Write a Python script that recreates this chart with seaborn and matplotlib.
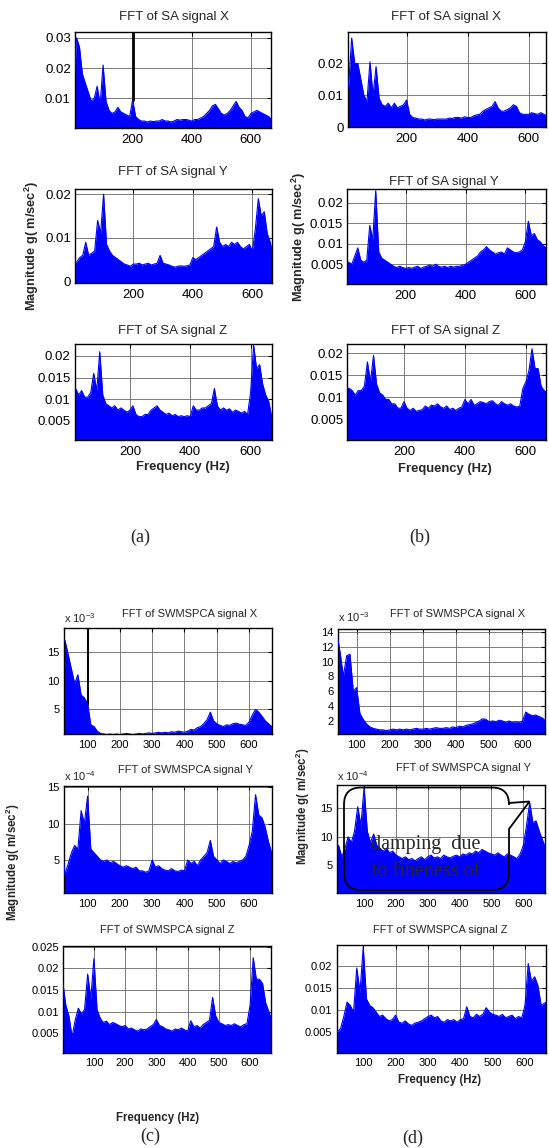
import numpy as np
import matplotlib
matplotlib.use("Agg")
import matplotlib.pyplot as plt
import seaborn as sns
from matplotlib.path import Path
from matplotlib.patches import PathPatch
from matplotlib.transforms import IdentityTransform
from matplotlib.ticker import FuncFormatter

# ---------------- data ----------------
FREQ = np.arange(0, 680, 10)  # frequency bins (Hz)

SA_X_A = [0.008, 0.030, 0.027, 0.018, 0.015, 0.012, 0.009, 0.010, 0.014, 0.008, 0.021, 0.009, 0.006, 0.005,
          0.0055, 0.007, 0.0055, 0.005, 0.0045, 0.004, 0.0095, 0.004, 0.003, 0.0025, 0.0025, 0.0022, 0.0025,
          0.0023, 0.0025, 0.0025, 0.003, 0.0025, 0.0025, 0.0022, 0.0025, 0.003, 0.0028, 0.003, 0.003, 0.0028,
          0.0025, 0.003, 0.003, 0.0035, 0.004, 0.005, 0.006, 0.0075, 0.008, 0.0065, 0.005, 0.0045, 0.005, 0.006,
          0.0075, 0.009, 0.007, 0.006, 0.004, 0.0035, 0.005, 0.0055, 0.006, 0.0055, 0.005, 0.0045, 0.004, 0.003]
SA_X_B = [0.010, 0.013, 0.028, 0.020, 0.020, 0.015, 0.010, 0.008, 0.0205, 0.010, 0.019, 0.009, 0.007, 0.0065,
          0.0075, 0.006, 0.0075, 0.006, 0.0065, 0.007, 0.0085, 0.004, 0.003, 0.0028, 0.0025, 0.0025, 0.0022,
          0.0025, 0.0025, 0.0023, 0.0025, 0.0025, 0.0025, 0.0025, 0.0028, 0.0027, 0.003, 0.003, 0.0028, 0.0032,
          0.003, 0.003, 0.0035, 0.0038, 0.004, 0.005, 0.0055, 0.006, 0.0065, 0.008, 0.006, 0.005, 0.005, 0.0055,
          0.006, 0.007, 0.0065, 0.0045, 0.004, 0.004, 0.004, 0.0045, 0.0042, 0.004, 0.0045, 0.004, 0.0035, 0.0035]
SA_Y_A = [0.004, 0.0045, 0.0055, 0.006, 0.009, 0.006, 0.0065, 0.007, 0.014, 0.011, 0.020, 0.0085, 0.007, 0.006,
          0.0055, 0.005, 0.0045, 0.004, 0.0038, 0.0035, 0.004, 0.004, 0.0042, 0.0038, 0.004, 0.0042, 0.0038,
          0.004, 0.0042, 0.006, 0.0042, 0.004, 0.0038, 0.0035, 0.0033, 0.0035, 0.0036, 0.0035, 0.0036, 0.0038,
          0.0055, 0.005, 0.0055, 0.006, 0.0065, 0.007, 0.0075, 0.008, 0.0125, 0.009, 0.008, 0.0085, 0.008, 0.009,
          0.0085, 0.009, 0.008, 0.0075, 0.008, 0.0085, 0.007, 0.012, 0.019, 0.015, 0.016, 0.011, 0.009, 0.006]
SA_Y_B = [0.0055, 0.0055, 0.005, 0.007, 0.009, 0.006, 0.0055, 0.006, 0.0145, 0.011, 0.023, 0.008, 0.0065, 0.006,
          0.0055, 0.005, 0.0045, 0.0042, 0.0045, 0.0042, 0.004, 0.0042, 0.004, 0.0043, 0.0045, 0.004, 0.0043,
          0.0045, 0.0048, 0.0045, 0.005, 0.0045, 0.0043, 0.0045, 0.0042, 0.0045, 0.0043, 0.0045, 0.0045, 0.0048,
          0.005, 0.0055, 0.006, 0.0065, 0.007, 0.008, 0.0085, 0.0093, 0.0085, 0.008, 0.0075, 0.0078, 0.008, 0.0075,
          0.009, 0.0085, 0.008, 0.0078, 0.008, 0.0085, 0.0105, 0.0155, 0.012, 0.0125, 0.011, 0.0105, 0.0095, 0.009]
SA_Z_A = [0.0125, 0.0125, 0.0125, 0.011, 0.012, 0.0105, 0.0105, 0.0115, 0.016, 0.012, 0.021, 0.011, 0.009, 0.0085,
          0.008, 0.0085, 0.0075, 0.008, 0.0075, 0.007, 0.0075, 0.0085, 0.0065, 0.006, 0.006, 0.0065, 0.0065,
          0.0075, 0.008, 0.0085, 0.0075, 0.007, 0.0065, 0.0068, 0.0062, 0.0065, 0.006, 0.0062, 0.006, 0.0062,
          0.006, 0.0085, 0.0075, 0.0075, 0.008, 0.008, 0.0085, 0.009, 0.0125, 0.0085, 0.0075, 0.008, 0.0075, 0.0078,
          0.007, 0.0075, 0.0072, 0.0068, 0.0072, 0.0065, 0.0115, 0.0225, 0.017, 0.018, 0.0135, 0.011, 0.0095, 0.006]
SA_Z_B = [0.012, 0.012, 0.012, 0.0115, 0.0105, 0.0115, 0.0115, 0.0125, 0.018, 0.0135, 0.0195, 0.013, 0.011, 0.0105,
          0.0095, 0.0095, 0.0085, 0.0085, 0.0075, 0.0075, 0.009, 0.0075, 0.007, 0.0075, 0.0068, 0.007, 0.0072,
          0.008, 0.0075, 0.0082, 0.008, 0.0085, 0.0078, 0.0075, 0.008, 0.0072, 0.0075, 0.007, 0.0075, 0.0078,
          0.0095, 0.0085, 0.0095, 0.0082, 0.0085, 0.009, 0.0088, 0.0085, 0.009, 0.0092, 0.0085, 0.0082, 0.009,
          0.0085, 0.0082, 0.0085, 0.008, 0.0078, 0.008, 0.012, 0.0135, 0.016, 0.021, 0.0165, 0.0165, 0.0125, 0.0115, 0.011]
# SWMSPCA X in units of 1e-3, Y in units of 1e-4
SW_X_C = [17.5, 17.5, 17.5, 17.0, 14.5, 12.0, 9.5, 11.0, 7.5, 7.0, 6.0, 2.3, 2.0, 1.2, 0.8, 0.7, 0.6, 0.7, 0.6,
          0.7, 0.6, 0.7, 0.8, 0.7, 0.6, 0.7, 0.8, 0.7, 0.8, 0.9, 0.8, 0.9, 1.0, 0.9, 1.0, 0.9, 1.1, 1.0, 1.2, 1.1,
          1.0, 1.2, 1.5, 1.4, 1.8, 2.0, 2.5, 3.2, 4.5, 3.0, 2.5, 2.2, 2.0, 2.3, 2.2, 2.5, 2.6, 2.4, 2.3, 2.2, 2.8,
          4.0, 5.0, 4.5, 3.8, 3.0, 2.5, 2.0]
SW_X_D = [14.0, 14.0, 14.0, 14.0, 14.0, 11.3, 8.0, 10.8, 11.0, 6.0, 6.5, 3.0, 2.2, 1.6, 1.2, 1.0, 0.9, 0.8, 0.8,
          0.7, 0.8, 0.9, 0.8, 0.9, 0.8, 0.9, 0.8, 0.9, 1.0, 0.9, 0.9, 1.0, 0.9, 1.0, 1.1, 1.0, 1.0, 1.1, 1.0, 1.2,
          1.1, 1.3, 1.2, 1.4, 1.5, 1.6, 1.8, 2.0, 2.3, 2.2, 1.9, 2.0, 1.9, 2.1, 2.0, 1.8, 2.0, 1.8, 1.9, 1.8, 2.0,
          3.2, 2.9, 2.7, 2.8, 2.6, 2.4, 2.0]
SW_Y_C = [7.0, 7.0, 7.0, 3.0, 4.5, 6.0, 7.0, 6.5, 11.8, 10.0, 13.8, 6.5, 6.0, 5.5, 5.0, 4.8, 5.0, 4.6, 4.8, 4.5,
          4.2, 4.0, 4.2, 4.0, 3.8, 4.0, 3.5, 3.5, 3.3, 3.5, 5.0, 4.0, 4.2, 3.8, 3.6, 3.5, 3.8, 3.5, 3.4, 3.6, 3.5,
          5.0, 4.5, 4.8, 4.2, 5.0, 5.5, 6.0, 7.7, 5.5, 5.0, 4.5, 5.0, 4.8, 4.5, 4.8, 4.6, 4.8, 5.0, 5.5, 7.0, 9.0,
          14.0, 11.2, 10.8, 9.5, 7.5, 6.0]
SW_Y_D = [8.5, 8.5, 8.5, 6.5, 8.0, 10.0, 9.0, 11.0, 15.3, 12.0, 18.7, 11.0, 9.0, 10.5, 8.5, 8.0, 7.5, 8.0, 7.2,
          7.5, 6.8, 6.5, 6.2, 6.5, 6.0, 6.2, 5.8, 6.2, 6.5, 6.0, 6.5, 6.8, 6.3, 6.5, 6.2, 6.8, 6.5, 6.3, 6.6, 6.8,
          6.5, 7.0, 6.8, 7.2, 7.0, 7.5, 7.2, 7.8, 7.5, 7.2, 7.0, 6.8, 7.2, 6.8, 6.5, 7.0, 6.8, 6.5, 6.2, 7.0, 8.5,
          12.0, 16.0, 12.5, 12.8, 11.0, 9.5, 8.0]
SW_Z_C = [0.017, 0.0115, 0.009, 0.0042, 0.008, 0.0108, 0.0095, 0.0105, 0.0187, 0.013, 0.0223, 0.0105, 0.0085,
          0.0075, 0.0078, 0.007, 0.0075, 0.0072, 0.0068, 0.0065, 0.0068, 0.006, 0.0062, 0.0058, 0.0055, 0.006,
          0.0058, 0.006, 0.0065, 0.007, 0.0082, 0.0068, 0.0065, 0.006, 0.0058, 0.0055, 0.006, 0.0058, 0.0062,
          0.0058, 0.0055, 0.0079, 0.0065, 0.0068, 0.0062, 0.007, 0.0075, 0.008, 0.0133, 0.009, 0.0075, 0.0072,
          0.0068, 0.007, 0.0068, 0.0072, 0.0068, 0.0065, 0.007, 0.0072, 0.0115, 0.0225, 0.0175, 0.0175, 0.0165,
          0.012, 0.010, 0.008]
SW_Z_D = [0.0065, 0.0065, 0.005, 0.0058, 0.0085, 0.0118, 0.011, 0.0095, 0.0195, 0.014, 0.0242, 0.0125, 0.011,
          0.0105, 0.0095, 0.0085, 0.0088, 0.008, 0.0075, 0.0078, 0.0088, 0.0072, 0.007, 0.0075, 0.0068, 0.0065,
          0.007, 0.0072, 0.0075, 0.008, 0.0085, 0.0088, 0.0082, 0.0085, 0.0075, 0.0072, 0.0078, 0.0075, 0.0078,
          0.0072, 0.0078, 0.008, 0.0107, 0.0085, 0.0082, 0.009, 0.0085, 0.009, 0.0105, 0.0095, 0.009, 0.0088,
          0.0085, 0.009, 0.0082, 0.0085, 0.0088, 0.008, 0.0085, 0.0082, 0.011, 0.0205, 0.0165, 0.0175, 0.0155,
          0.011, 0.0115, 0.012]

TITLES = ["FFT of SA signal X", "FFT of SA signal Y", "FFT of SA signal Z",
          "FFT of SWMSPCA signal X", "FFT of SWMSPCA signal Y", "FFT of SWMSPCA signal Z"]
CURSOR_A = 200   # data-cursor line in panel (a) X
CURSOR_C = 100   # data-cursor line in panel (c) X

# ---------------- style ----------------
sns.set_style("white")
plt.rcParams["font.family"] = ["Liberation Sans", "DejaVu Sans"]
plt.rcParams["mathtext.fontset"] = "custom"
plt.rcParams["mathtext.rm"] = "Liberation Sans"
plt.rcParams["mathtext.bf"] = "Liberation Sans:bold"

W, H = 549, 1148
fig = plt.figure(figsize=(W / 100, H / 100), dpi=100)
fig.patch.set_facecolor("white")


def rect(l, r, t, b):
    return [l / W, 1 - b / H, (r - l) / W, (b - t) / H]


def fxy(x, y):
    return x / W, 1 - y / H


BLUE = "#0000ff"
fmt = FuncFormatter(lambda v, p: "%g" % round(v, 6))

panels = [
    # data, rect(l,r,t,b), xlim, ylim, yticks, xticks, title idx, title pos, fs_tick, fs_title, mult
    (SA_X_A, (75, 271, 32, 128), (5, 668), (0.0002, 0.0319), [0.01, 0.02, 0.03], [200, 400, 600], 0, (174, 17), 9.5, 9.5, None),
    (SA_X_B, (347.7, 546, 31.7, 127), (7, 657), (0, 0.030), [0, 0.01, 0.02], [200, 400, 600], 0, (446, 17.3), 9.5, 9.5, None),
    (SA_Y_A, (75.3, 271.7, 189, 283.3), (5, 665), (-0.0004, 0.0212), [0, 0.01, 0.02], [200, 400, 600], 1, (173, 172.5), 9.5, 9.5, None),
    (SA_Y_B, (347.3, 546, 189, 284.3), (5, 669), (0.0001, 0.0234), [0.005, 0.01, 0.015, 0.02], [200, 400, 600], 1, (444, 181.7), 9.5, 9.5, None),
    (SA_Z_A, (74.7, 271.7, 344.3, 440), (17, 670), (0.0006, 0.0227), [0.005, 0.01, 0.015, 0.02], [200, 400, 600], 2, (173, 330.7), 9.5, 9.5, None),
    (SA_Z_B, (347.3, 546, 344.3, 440), (14, 666), (0.0003, 0.022), [0.005, 0.01, 0.015, 0.02], [200, 400, 600], 2, (446, 330.7), 9.5, 9.5, None),
    (SW_X_C, (64, 271.7, 627.7, 734.3), (27, 670), (0.65, 19.2), [5, 10, 15], [100, 200, 300, 400, 500, 600], 3, (190, 614.3), 8, 8, ("-3", (64, 618))),
    (SW_X_D, (337.7, 545.3, 629, 734.3), (43, 669), (0.2, 14.4), [2, 4, 6, 8, 10, 12, 14], [100, 200, 300, 400, 500, 600], 3, (458, 614.3), 8, 8, ("-3", (337.7, 617))),
    (SW_Y_C, (64, 271.7, 786, 893.3), (27, 670), (0.4, 15.2), [5, 10, 15], [100, 200, 300, 400, 500, 600], 4, (185, 770), 8, 8, ("-4", (64, 776))),
    (SW_Y_D, (336.7, 545.3, 785, 893.3), (14, 669), (0.1, 19.1), [5, 10, 15], [100, 200, 300, 400, 500, 600], 4, (463, 768.3), 8, 8, ("-4", (336.7, 776))),
    (SW_Z_C, (63.3, 270.7, 946, 1052.7), (2, 666), (0.0005, 0.0252), [0.005, 0.01, 0.015, 0.02, 0.025], [100, 200, 300, 400, 500, 600], 5, (167, 930), 8, 8, None),
    (SW_Z_D, (336.7, 546, 945, 1052.7), (18, 665), (0.0003, 0.0247), [0.005, 0.01, 0.015, 0.02], [100, 200, 300, 400, 500, 600], 5, (440, 930), 8, 8, None),
]

axes = []
for vals, r, xl, yl, yt, xt, ti, tpos, fst, fstt, mult in panels:
    ax = fig.add_axes(rect(*r))
    vals = np.asarray(vals, dtype=float)
    ax.fill_between(FREQ, min(0, yl[0]), vals, color=BLUE, lw=0, zorder=2)
    sns.lineplot(x=FREQ, y=vals, ax=ax, color=BLUE, lw=0.8, zorder=3)
    ax.set_xlim(*xl)
    ax.set_ylim(*yl)
    ax.set_xticks(xt)
    ax.set_yticks(yt)
    ax.yaxis.set_major_formatter(fmt)
    ax.set_xlabel("")
    ax.set_ylabel("")
    ax.grid(True, color="0.4", lw=0.6, ls="-")
    ax.set_axisbelow(True)
    for s in ax.spines.values():
        s.set_visible(True)
        s.set_color("black")
        s.set_linewidth(1.0)
    ax.tick_params(direction="in", length=3, width=0.8, top=True, right=True,
                   labelsize=fst, colors="black", pad=3)
    ax.tick_params(axis="x", pad=4)
    fig.text(*fxy(*tpos), TITLES[ti], ha="center", va="center", fontsize=fstt)
    if mult is not None:
        fig.text(*fxy(*mult[1]), r"x 10$^{%s}$" % mult[0], ha="left", va="center", fontsize=fst)
    axes.append(ax)

# data-cursor lines
ia = list(FREQ).index(CURSOR_A)
axes[0].plot([CURSOR_A, CURSOR_A], [SA_X_A[ia], axes[0].get_ylim()[1]], color="black", lw=2.0, zorder=4)
ic = list(FREQ).index(CURSOR_C)
axes[6].plot([CURSOR_C, CURSOR_C], [SW_X_C[ic], axes[6].get_ylim()[1]], color="black", lw=1.5, zorder=4)

# axis labels
ylab = r"Magnitude g( m/sec$^{\mathbf{2}}$)"
fig.text(*fxy(32, 246), ylab, rotation=90, ha="center", va="center", fontsize=9.2, fontweight="bold")
fig.text(*fxy(299, 237), ylab, rotation=90, ha="center", va="center", fontsize=9.2, fontweight="bold")
fig.text(*fxy(13, 862), ylab, rotation=90, ha="center", va="center", fontsize=8.3, fontweight="bold")
fig.text(*fxy(303, 806), ylab, rotation=90, ha="center", va="center", fontsize=8.3, fontweight="bold")
fig.text(*fxy(183, 466.7), "Frequency (Hz)", ha="center", va="center", fontsize=9.4, fontweight="bold")
fig.text(*fxy(445, 469), "Frequency (Hz)", ha="center", va="center", fontsize=9.4, fontweight="bold")
fig.text(*fxy(158, 1118.3), "Frequency (Hz)", ha="center", va="center", fontsize=8.3, fontweight="bold")
fig.text(*fxy(440, 1080), "Frequency (Hz)", ha="center", va="center", fontsize=8.3, fontweight="bold")

serif = ["Liberation Serif", "DejaVu Serif"]
for lab, pos in [("(a)", (140, 537)), ("(b)", (420, 537)), ("(c)", (150, 1136.7)), ("(d)", (413, 1138))]:
    fig.text(*fxy(*pos), lab, ha="center", va="center", fontsize=13, family=serif)

# callout balloon in panel (d) Y
L, R, T, B, rr = 344, 509, 787.5, 890, 17
pts = [(L + rr, T), (R - rr, T), (R, T), (R, T + rr), (R, 803), (529.5, 801.5), (R, 829), (R, B - rr),
       (R, B), (R - rr, B), (L + rr, B), (L, B), (L, B - rr), (L, T + rr), (L, T), (L + rr, T)]
codes = [Path.MOVETO, Path.LINETO, Path.CURVE3, Path.CURVE3, Path.LINETO, Path.LINETO, Path.LINETO, Path.LINETO,
         Path.CURVE3, Path.CURVE3, Path.LINETO, Path.CURVE3, Path.CURVE3, Path.LINETO, Path.CURVE3, Path.CURVE3]
verts = [(x, H - y) for x, y in pts]
patch = PathPatch(Path(verts, codes), facecolor="none", edgecolor="black", lw=1.3,
                  transform=IdentityTransform(), zorder=10)
fig.add_artist(patch)
fig.text(*fxy(426, 845), "damping  due", ha="center", va="center", fontsize=14.5, family=serif, zorder=11)
fig.text(*fxy(426, 871.7), "to fineness of", ha="center", va="center", fontsize=14.5, family=serif, zorder=11)

fig.savefig("out.png", dpi=100, facecolor="white")
